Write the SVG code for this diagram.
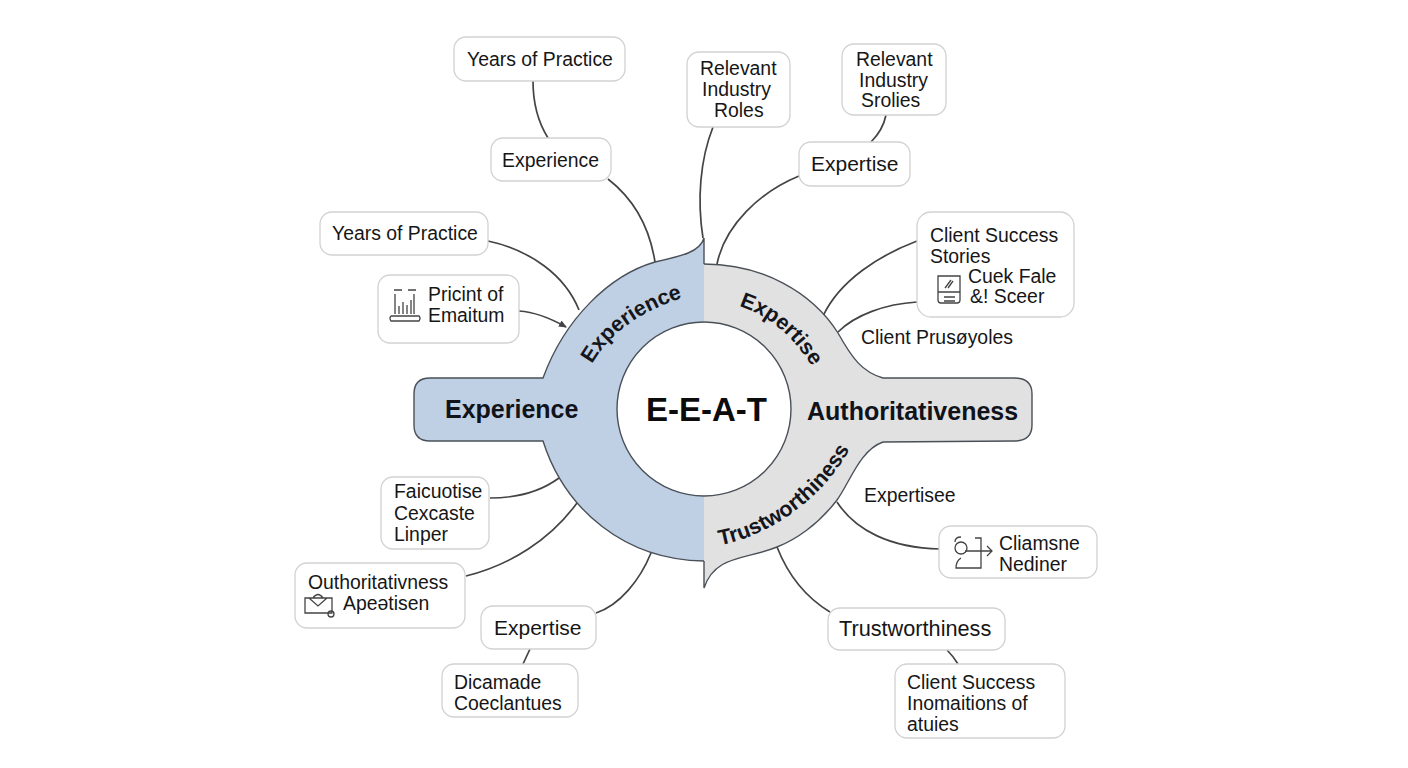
<svg xmlns="http://www.w3.org/2000/svg" width="1408" height="768" viewBox="0 0 1408 768">
<style>
text{font-family:"Liberation Sans",Arial,sans-serif;fill:#161616;font-size:19.4px}
.box{fill:#fff;stroke:#d2d2d2;stroke-width:1.3}
.c{fill:none;stroke:#444;stroke-width:1.7}
.ic{fill:none;stroke:#444;stroke-width:1.3}
.b{font-weight:700;fill:#10131a;font-size:25px}
.band{font-weight:700;font-size:21.5px;fill:#14161c}
.big{font-size:21px}
.seg{stroke:#4a5058;stroke-width:1.4}
</style>
<defs>
<marker id="ah" markerWidth="9" markerHeight="9" refX="7" refY="4" orient="auto" markerUnits="userSpaceOnUse"><path d="M0,0.5L8,4L0,7.5Z" fill="#444"/></marker>
<path id="pExp" d="M592,364 C608,336 636,313 682,298"/>
<path id="pExt" d="M739,306 C770,316 795,338 814,370"/>
<path id="pTru" d="M720,545 C770,536 825,497 850,448"/>
</defs>
<rect width="1408" height="768" fill="#fff"/>
<g id="connectors">
<path class="c" d="M533,81 C533,105 538,122 548,138"/>
<path class="c" d="M608,179 C635,200 650,230 655,262"/>
<path class="c" d="M713,127 C700,160 697,200 703,238"/>
<path class="c" d="M886,115 C884,125 880,133 871,142"/>
<path class="c" d="M799,176 C760,192 725,225 717,264"/>
<path class="c" d="M917,241 C880,255 840,280 823,316"/>
<path class="c" d="M917,302 C885,304 855,315 838,332"/>
<path class="c" d="M488,241 C530,250 565,275 579,310"/>
<path class="c" marker-end="url(#ah)" d="M519,311 C535,312 550,318 566,327"/>
<path class="c" d="M490,498 C515,498 540,492 559,478"/>
<path class="c" d="M466,576 C510,565 550,540 577,503"/>
<path class="c" d="M596,613 C620,605 640,580 651,553"/>
<path class="c" d="M530,649 L523,664"/>
<path class="c" d="M837,502 C855,530 890,548 940,549"/>
<path class="c" d="M777,547 C790,580 810,600 830,612"/>
<path class="c" d="M947,650 C951,654 955,659 958,664"/>
</g>
<g id="ring">
<path id="seg-blue" class="seg" fill="#bfd0e4" d="M704,264 L704,238 C700,252 682,256 655,262 C610,275 565,318 543,378 L430,378 Q414,378 414,394 L414,425 Q414,441 430,441 L543,441 C565,510 625,560 704,561"/>
<path id="seg-gray" class="seg" fill="#e1e1e1" d="M704,264 C762,264 812,292 838,333 C852,358 862,372 883,378 L1014,378 Q1032,378 1032,394 L1032,425 Q1032,441 1014,441 L883,442 C860,450 850,482 837,500 C818,525 795,540 777,547 C745,560 715,555 704,588 L704,561"/>
<circle id="hub" cx="704" cy="409" r="87" fill="#fff" stroke="#4a5058" stroke-width="1.4"/>
<text class="band"><textPath href="#pExp">Experience</textPath></text>
<text class="band"><textPath href="#pExt">Expertise</textPath></text>
<text class="band"><textPath href="#pTru">Trustworthiness</textPath></text>
<text class="b" x="445" y="418">Experience</text>
<text class="b" x="807" y="420">Authoritativeness</text>
<text x="646" y="421" style="font-size:33px;font-weight:700;fill:#0c0c0c">E-E-A-T</text>
</g>
<g id="n1"><rect class="box" x="454" y="37" width="171" height="44" rx="12"/><text x="467" y="66">Years of Practice</text></g>
<g id="n2"><rect class="box" x="491" y="138" width="120" height="43" rx="12"/><text x="502" y="167">Experience</text></g>
<g id="n3"><rect class="box" x="687" y="52" width="103" height="75" rx="12"/><text x="700" y="75">Relevant</text><text x="702" y="96">Industry</text><text x="714" y="117">Roles</text></g>
<g id="n4"><rect class="box" x="842" y="44" width="104" height="71" rx="12"/><text x="856" y="66">Relevant</text><text x="859" y="87">Industry</text><text x="861" y="107">Srolies</text></g>
<g id="n5"><rect class="box" x="799" y="142" width="111" height="44" rx="12"/><text class="big" x="811" y="171">Expertise</text></g>
<g id="n6"><rect class="box" x="917" y="212" width="157" height="105" rx="14"/><text x="930" y="242">Client Success</text><text x="930" y="263">Stories</text><text x="968" y="283">Cuek Fale</text><text x="970" y="303">&amp;! Sceer</text>
<path class="ic" d="M938,276 h22 v24 q0,3 -3,3 h-16 q-3,0 -3,-3 Z M938,292 h22 M944,297 h11 M944,301 h11"/><path class="ic" d="M945,288 l6,-8 M948,288 l5,-7"/></g>
<g id="n7"><text x="861" y="344">Client Prusøyoles</text></g>
<g id="n8"><rect class="box" x="320" y="212" width="168" height="43" rx="12"/><text x="332" y="240">Years of Practice</text></g>
<g id="n9"><rect class="box" x="378" y="275" width="141" height="68" rx="12"/><text x="428" y="301">Pricint of</text><text x="428" y="322">Emaitum</text>
<path class="ic" d="M394,290 h8 M408,290 h8 M395,294 v20 M414,294 v20 M391,316 h28 q2,2 0,5 h-28 q-2,-3 0,-5 M399,314 v-8 M403,314 v-12 M407,314 v-9 M411,314 v-14"/></g>
<g id="n10"><rect class="box" x="381" y="477" width="108" height="72" rx="12"/><text x="394" y="498">Faicuotise</text><text x="394" y="520">Cexcaste</text><text x="394" y="541">Linper</text></g>
<g id="n11"><rect class="box" x="295" y="563" width="170" height="65" rx="12"/><text x="308" y="589">Outhoritativness</text><text x="343" y="610">Apeətisen</text>
<path class="ic" d="M305,598 h27 v15 h-27 Z M309,598 l9,8 l9,-8 M313,598 q5,-7 10,0"/><circle class="ic" cx="331" cy="614" r="3" fill="#fff"/></g>
<g id="n12"><rect class="box" x="481" y="606" width="115" height="43" rx="12"/><text class="big" x="494" y="635">Expertise</text></g>
<g id="n13"><rect class="box" x="442" y="664" width="136" height="53" rx="12"/><text x="454" y="689">Dicamade</text><text x="454" y="710">Coeclantues</text></g>
<g id="n14"><text x="864" y="502">Expertisee</text></g>
<g id="n15"><rect class="box" x="939" y="526" width="158" height="52" rx="12"/><text x="999" y="550">Cliamsne</text><text x="999" y="571">Nediner</text>
<circle class="ic" cx="961" cy="548" r="6"/><path class="ic" d="M955,542 q0,-5 6,-5 M975,538 h6 v30 h-25 q0,-7 5,-10 M965,551 h27 M987,546 l5,5 l-5,5"/></g>
<g id="n16"><rect class="box" x="828" y="608" width="177" height="42" rx="12"/><text x="839" y="636" style="font-size:21.7px">Trustworthiness</text></g>
<g id="n17"><rect class="box" x="895" y="664" width="170" height="74" rx="12"/><text x="907" y="689">Client Success</text><text x="907" y="710">Inomaitions of</text><text x="907" y="731">atuies</text></g>
</svg>
